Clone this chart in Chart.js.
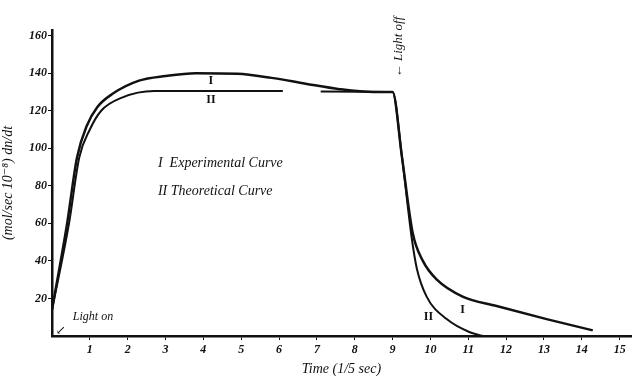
<!DOCTYPE html>
<html>
<head>
<meta charset="utf-8">
<script src="https://cdn.jsdelivr.net/npm/chart.js@4.4.0/dist/chart.umd.min.js"></script>
<style>
  html, body { margin: 0; padding: 0; background: #fff; }
  #wrap { width: 634px; height: 378px; }
</style>
</head>
<body>
<div id="wrap"><canvas id="mychart"></canvas></div>
<script>
// curve I : experimental
const timeI = [0, 0.4, 0.66, 0.92, 1.2, 1.6, 2.3, 3.0, 3.8, 4.9, 5.8, 6.7, 7.6, 8.5, 9.0, 9.25, 9.53, 9.8, 10.17, 10.85, 11.75, 13.07, 14.29];
const valI  = [14, 60, 95, 112, 122, 129, 136, 138.5, 140, 139.7, 137.5, 134.4, 131.5, 130, 130, 95, 55, 40, 30, 21, 16, 9, 3];

// curve II : theoretical (broken between 6.1 and 7.1)
const timeII = [0, 0.45, 0.72, 1.0, 1.3, 1.85, 2.7, 6.1, 6.6, 7.1, 9.0, 9.25, 9.5, 9.64, 9.9, 10.43, 11.04, 11.4];
const valII  = [14, 60, 95, 110, 120, 127, 130.5, 130.5, null, 130.3, 130, 95, 53, 36, 21, 9, 2, 0];

const xTicks = [1, 2, 3, 4, 5, 6, 7, 8, 9, 10, 11, 12, 13, 14, 15];
const yTicks = [20, 40, 60, 80, 100, 120, 140, 160];

const hand = "'Liberation Serif', 'DejaVu Serif', serif";

function toPoints(xs, ys) {
  return xs.map((x, i) => ({ x: x, y: ys[i] }));
}

// notes written on the plot
const notes = {
  id: 'notes',
  afterDraw(chart) {
    const c = chart.ctx;
    const xs = chart.scales.x, ys = chart.scales.y;
    c.save();
    c.fillStyle = '#111';
    c.strokeStyle = '#111';
    c.textBaseline = 'middle';
    c.textAlign = 'center';
    c.font = 'bold 12px ' + hand;
    c.fillText('I', xs.getPixelForValue(4.2), ys.getPixelForValue(136));
    c.fillText('II', xs.getPixelForValue(4.2), ys.getPixelForValue(126));
    c.fillText('II', xs.getPixelForValue(9.95), ys.getPixelForValue(10));
    c.fillText('I', xs.getPixelForValue(10.85), ys.getPixelForValue(14));

    c.textAlign = 'left';
    c.font = 'italic 14px ' + hand;
    c.fillText('I  Experimental Curve', xs.getPixelForValue(2.8), ys.getPixelForValue(92));
    c.fillText('II Theoretical Curve', xs.getPixelForValue(2.8), ys.getPixelForValue(77));

    c.font = 'italic 12px ' + hand;
    c.fillText('Light on', xs.getPixelForValue(0.55), ys.getPixelForValue(10));
    c.fillText('\u2199', xs.getPixelForValue(0.1), ys.getPixelForValue(3));

    c.font = 'italic 13px ' + hand;
    c.translate(xs.getPixelForValue(9.15), 47);
    c.rotate(-Math.PI / 2);
    c.textAlign = 'center';
    c.fillText('\u2190 Light off', 0, 0);
    c.restore();
  }
};

new Chart(document.getElementById('mychart'), {
  type: 'line',
  data: {
    datasets: [{
      label: 'Experimental Curve',
      data: toPoints(timeI, valI),
      borderColor: '#111',
      borderWidth: 2.5,
      pointRadius: 0,
      cubicInterpolationMode: 'monotone',
      fill: false
    },
    {
      label: 'Theoretical Curve',
      data: toPoints(timeII, valII),
      borderColor: '#111',
      borderWidth: 2,
      pointRadius: 0,
      cubicInterpolationMode: 'monotone',
      spanGaps: false,
      fill: false
    }]
  },
  options: {
    responsive: true,
    maintainAspectRatio: false,
    animation: false,
    layout: {
      padding: { top: 30, right: 3, left: 0, bottom: 0 }
    },
    plugins: {
      legend: { display: false },
      tooltip: { enabled: false }
    },
    scales: {
      x: {
        type: 'linear',
        min: 0,
        max: 15.3,
        afterBuildTicks: (s) => { s.ticks = xTicks.map(v => ({ value: v })); },
        afterFit: (s) => { s.height = 42; },
        grid: { display: true, drawOnChartArea: false, tickLength: 4, color: '#111' },
        border: { color: '#111', width: 2.5 },
        ticks: { color: '#111', padding: 3, font: { family: hand, size: 12, style: 'italic', weight: 'bold' } },
        title: {
          display: true,
          text: 'Time (1/5 sec)',
          color: '#111',
          padding: { top: 0, bottom: 0 },
          font: { family: hand, size: 14, style: 'italic' }
        }
      },
      y: {
        min: 0,
        max: 163,
        afterBuildTicks: (s) => { s.ticks = yTicks.map(v => ({ value: v })); },
        afterFit: (s) => { s.width = 52; },
        grid: { display: true, drawOnChartArea: false, tickLength: 4, color: '#111' },
        border: { color: '#111', width: 2.5 },
        ticks: { color: '#111', padding: 1, font: { family: hand, size: 12, style: 'italic', weight: 'bold' } },
        title: {
          display: true,
          text: '(mol/sec 10\u207B\u2078) dn/dt',
          color: '#111',
          padding: { top: 0, bottom: 2 },
          font: { family: hand, size: 14, style: 'italic' }
        }
      }
    }
  },
  plugins: [notes]
});
</script>
</body>
</html>
